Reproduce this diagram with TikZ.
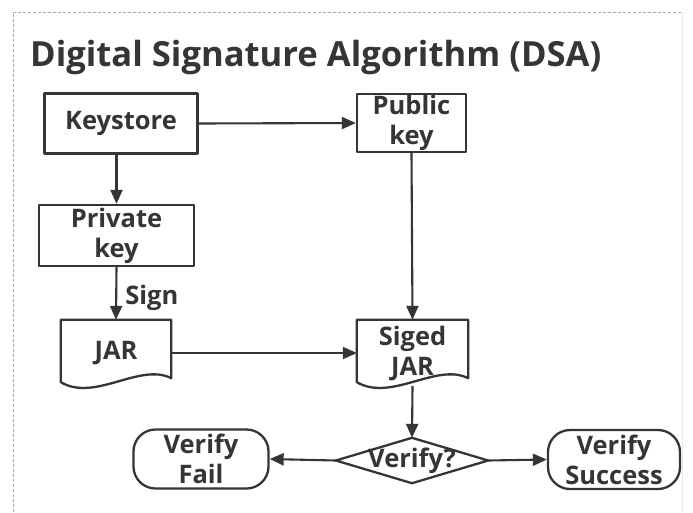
\documentclass[tikz,border=0pt]{standalone}
\usepackage{fontspec}
\setmainfont{Open Sans}
\usetikzlibrary{arrows.meta,calc}
\definecolor{ink}{HTML}{353535}
\definecolor{framegray}{HTML}{A8A8A8}

% outline of a flowchart "document" symbol around a rectangle node
\newcommand\docoutline[1]{%
  \draw[shapeline] (#1.north west) -- (#1.north east) -- ($(#1.south east)+(0,-8)$)
    .. controls ($(#1.south)+(24,-24)$) and ($(#1.south)+(-21,16)$) .. ($(#1.south west)+(0,-4)$)
    -- cycle;}

\begin{document}
\begin{tikzpicture}[x=1pt,y=-1pt,
  every node/.style={font=\fontsize{25.5}{30}\selectfont\bfseries, text=ink, align=center, inner sep=0pt},
  shapeline/.style={draw=ink, line width=2.3pt, line join=round},
  box/.style={shapeline, rectangle},
  docbox/.style={rectangle, minimum width=110pt, minimum height=66pt},
  terminal/.style={shapeline, rectangle, rounded corners=22pt, minimum width=135pt, minimum height=59pt},
  arr/.style={draw=ink, line width=2.1pt, -{Triangle[length=14pt,width=12pt]}},
  border/.style={draw=framegray, line width=1pt, dash pattern=on 3pt off 2pt}]

% canvas
\useasboundingbox (0,0) rectangle (693,512);
\fill[white] (0,0) rectangle (693,512);
\draw[border] (13,512) -- (13,12) -- (682,12);
\draw[gray!18, line width=0.8pt] (682,12) -- (682,512);

% title
\node[anchor=base west, font=\fontsize{34.6}{40}\selectfont\bfseries] (title) at (30,66) {Digital Signature Algorithm (DSA)};

% key nodes
\node[box, minimum width=153pt, minimum height=60pt] (keystore) at (121,123.5) {Keystore};
\node[box, minimum width=109pt, minimum height=58pt] (pub) at (411.5,123) {Public\\key};
\node[box, minimum width=155pt, minimum height=61pt] (priv) at (116.5,235.5) {Private\\key};

% documents
\node[docbox] (jar) at (116,353) {JAR};
\docoutline{jar}
\node[docbox, minimum width=111pt] (sjar) at (412.5,353) {Siged\\JAR};
\docoutline{sjar}

% decision
\node[rectangle, minimum width=152pt, minimum height=45pt] (ver) at (412,460.5) {Verify?};
\draw[shapeline] (ver.north) -- (ver.east) -- (ver.south) -- (ver.west) -- cycle;

% outcomes
\node[terminal] (fail) at (201,459) {Verify\\Fail};
\node[terminal, minimum width=132pt] (succ) at (614,459.5) {Verify\\Success};

% connectors
\draw[arr] (keystore.east) -- (pub.west);
\draw[arr] (priv.north |- keystore.south) -- (priv.north);
\draw[arr] (priv.south) -- node[anchor=west, xshift=8pt, yshift=-4pt] (sign) {Sign} (jar.north);
\draw[arr] (pub.south) -- (sjar.north);
\draw[arr] (jar.east) -- (sjar.west);
\draw[arr] (sjar.south) -- (ver.north);
\draw[arr] (ver.west) -- (fail.east);
\draw[arr] (ver.east) -- (succ.west);
\end{tikzpicture}
\end{document}
